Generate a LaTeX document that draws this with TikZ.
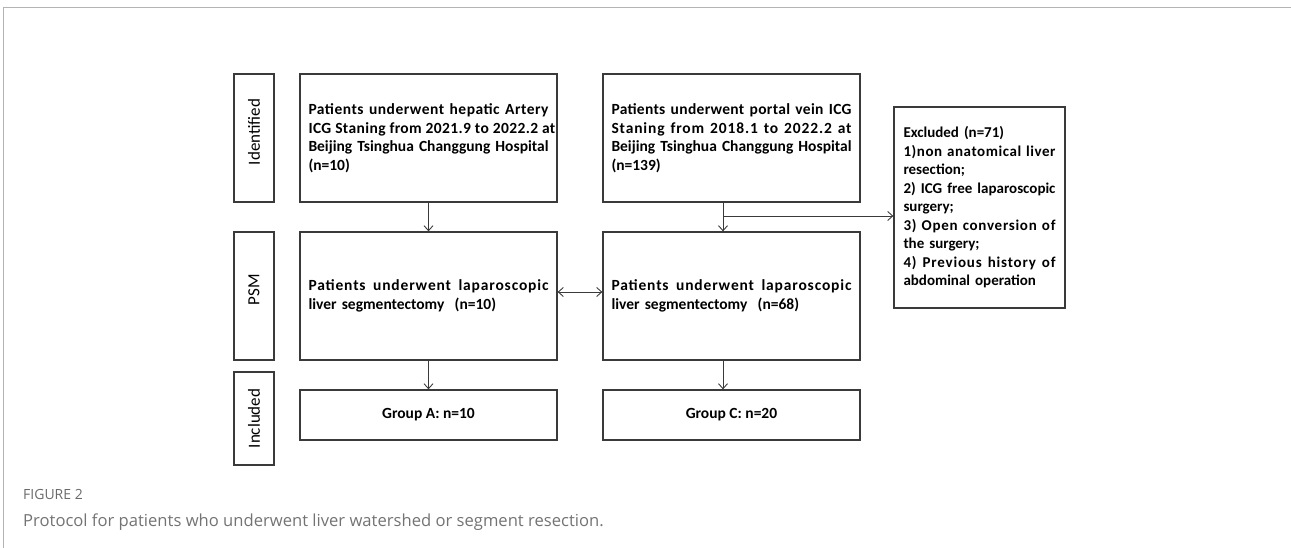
\documentclass[tikz,border=0pt]{standalone}
\usepackage{fontspec}
\setmainfont{Carlito}
\newfontfamily\lsB{Carlito}[LetterSpace=2.0]
\newfontfamily\lsC{Carlito}[LetterSpace=2.5]
\newfontfamily\lsD{Carlito}[LetterSpace=3.3]
\newfontfamily\lsE{Carlito}[LetterSpace=3.8]
\newfontfamily\lsF{Carlito}[LetterSpace=4.8]
\newfontfamily\lsG{Carlito}[LetterSpace=5.5]
\newfontfamily\capfont{Open Sans}
\usetikzlibrary{arrows.meta}
\definecolor{boxgray}{HTML}{3A3A3A}
\definecolor{framegray}{HTML}{B4B4B4}
\definecolor{capgray}{HTML}{737373}
\definecolor{figgray}{HTML}{6A6A6A}
\newcommand{\jl}[2]{\makebox[#1][s]{\spaceskip=\fontdimen2\font plus 1fil\relax #2}}
\newcommand{\wl}[3]{\makebox[#1][s]{#2\bfseries\spaceskip=\fontdimen2\font plus 1fil\relax #3}}
\tikzset{
  boxtext/.style={font=\fontsize{15.5}{18.5}\selectfont\bfseries},
  flowbox/.style={draw=boxgray, line width=1.3pt, boxtext, inner xsep=8.5pt, inner ysep=0pt,
    text width=240pt, align=left, minimum height=128pt},
  smallbox/.style={draw=boxgray, line width=1.3pt, boxtext, minimum width=257pt, minimum height=50pt, align=center},
  exbox/.style={draw=boxgray, line width=1.3pt, font=\fontsize{15}{18.5}\selectfont\bfseries, inner xsep=9.5pt, inner ysep=0pt,
    text width=152pt, align=left, minimum height=201pt},
  labelbox/.style={draw=boxgray, line width=1.3pt, rotate=90, minimum height=40pt,
    font=\fontsize{17}{20}\selectfont, inner sep=0pt},
  arr/.style={draw=boxgray, line width=0.9pt, -{Straight Barb[length=5pt,width=9pt]}},
  darr/.style={draw=boxgray, line width=0.9pt, {Straight Barb[length=5pt,width=9pt]}-{Straight Barb[length=5pt,width=9pt]}},
  captext/.style={anchor=west, inner sep=0pt, text=capgray}
}
\begin{document}
\begin{tikzpicture}[x=1pt,y=-1pt]
\useasboundingbox (0,0) rectangle (1291,548);
\draw[framegray, line width=1pt] (3,548) -- (3,8) -- (1291,8);

\node[labelbox, minimum width=128pt] (lid) at (254,138) {\hspace*{12pt}Identified};
\node[labelbox, minimum width=128pt] (lpsm) at (254,296) {\hspace*{12pt}PSM};
\node[labelbox, minimum width=93pt] (linc) at (254,418.5) {Included};

\node[flowbox] (a1) at (428.5,138) {\wl{240pt}{\lsD}{Patients underwent hepatic Artery}\\ \wl{240pt}{\lsC}{ICG Staning from 2021.9 to 2022.2 at}\\ \jl{240pt}{Beijing Tsinghua Changgung Hospital}\\ (n=10)};
\node[flowbox] (b1) at (731.5,138) {\wl{240pt}{\lsB}{Patients underwent portal vein ICG}\\ \wl{240pt}{\lsG}{Staning from 2018.1 to 2022.2 at}\\ \jl{240pt}{Beijing Tsinghua Changgung Hospital}\\ (n=139)};
\node[flowbox] (a2) at (428.5,296) {\wl{240pt}{\lsG}{Patients underwent laparoscopic}\\ liver segmentectomy~ (n=10)};
\node[flowbox] (b2) at (731.5,296) {\wl{240pt}{\lsG}{Patients underwent laparoscopic}\\ liver segmentectomy~ (n=68)};
\node[smallbox] (a3) at (428.5,415) {Group A: n=10};
\node[smallbox] (b3) at (731.5,415) {Group C: n=20};

\node[exbox] (ex) at (979.5,207.5) {Excluded (n=71)\\ \wl{152pt}{\lsE}{1)non anatomical liver}\\ resection;\\ \jl{152pt}{2) ICG free laparoscopic}\\ surgery;\\ \wl{152pt}{\lsF}{3) Open conversion of}\\ the surgery;\\ \wl{152pt}{\lsG}{4) Previous history of}\\ abdominal operation};

\coordinate (bx) at (723,216);
\coordinate (mid) at (580,292);

\draw[arr] (a1) -- (a2);
\draw[arr] (b1.south -| bx) -- (b2.north -| bx);
\draw[arr] (bx) -- (bx -| ex.west);
\draw[darr] (a2.east |- mid) -- (b2.west |- mid);
\draw[arr] (a2) -- (a3);
\draw[arr] (b2.south -| bx) -- (b3.north -| bx);

\node[captext, font=\capfont\fontsize{14}{16}\selectfont, text=figgray] (fig) at (23,494) {FIGURE 2};
\node[captext, font=\capfont\fontsize{16.6}{20}\selectfont] (cap) at (23,522) {Protocol for patients who underwent liver watershed or segment resection.};
\end{tikzpicture}
\end{document}
